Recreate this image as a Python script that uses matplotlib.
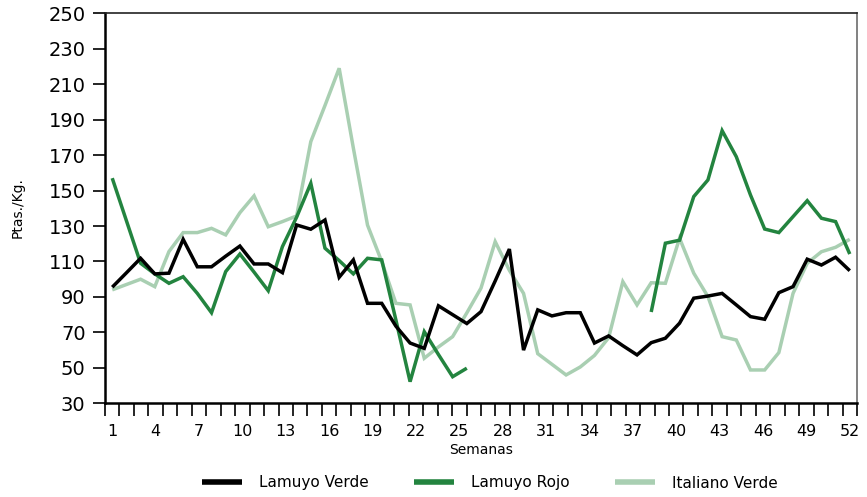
import numpy as np
import matplotlib
matplotlib.use("Agg")
import matplotlib.pyplot as plt

# ---- data ----
week_labels = list(range(1, 53, 3))          # 1, 4, 7, ..., 52
y_ticks = list(range(30, 251, 20))

lamuyo_verde = [95.5, 103.6, 111.8, 103, 103.4, 122.5, 107, 107, 113, 118.7,
                108.6, 108.6, 103.7, 130.6, 128.2, 133.4, 101.1, 110.9, 86.4, 86.4,
                73.5, 64, 61, 85, 80, 75, 81.7, 99, 117, 60,
                82.7, 79.3, 81.1, 81.1, 64, 68, 62.5, 57.3, 64.2, 66.7,
                75.2, 89.3, 90.5, 92, 85.5, 78.9, 77.4, 92.4, 95.8, 111.3,
                108, 112.4, 104.8]

nan = float("nan")
lamuyo_rojo = [157, 133, 109, 103, 97.7, 101.4, 92, 81.1, 104.3, 114.2,
               104, 93.5, 118.4, 135, 154.1, 117.5, 110.5, 103, 111.8, 110.9,
               77, 42.2, 70.4, 57.5, 45, 49.8,
               nan, nan, nan, nan, nan, nan, nan, nan, nan, nan, nan, nan,
               81.5, 120.3, 122, 146.6, 156, 183.8, 169.1, 147.5, 128.3, 126.3,
               135.3, 144.3, 134.4, 132.5, 114.2]

italiano_verde = [94, 97, 100, 95.8, 115.6, 126.3, 126.3, 128.7, 125, 137.5,
                  147, 129.6, 132.5, 135.7, 177.6, 198, 219, 174, 130.5, 110,
                  86.4, 85.5, 55.4, 61.8, 67.6, 81, 95, 121.2, 105, 92,
                  58, 52, 46, 50.5, 57, 67, 98.6, 85.5, 98, 97.7,
                  123.1, 103.4, 90.2, 67.6, 65.7, 48.8, 48.8, 58.6, 92, 109,
                  115.5, 118, 122.5]

series_names = ["Lamuyo Verde", "Lamuyo Rojo", "Italiano Verde"]
series_colors = ["#000000", "#23843F", "#A9CFB2"]

# 53 weekly observations spread evenly over the 52-week category axis
x_obs = np.linspace(1, 52, len(lamuyo_verde))

# ---- figure ----
W, H = 867, 497
fig = plt.figure(figsize=(W / 100, H / 100), dpi=100)
L, R, T, B = 105, 857, 13.3, 403.3
ax = fig.add_axes([L / W, 1 - B / H, (R - L) / W, (B - T) / H])

lines = []
for vals, name, col, z in zip([lamuyo_verde, lamuyo_rojo, italiano_verde],
                              series_names, series_colors, [4, 3, 2]):
    ln, = ax.plot(x_obs, vals, color=col, lw=2.5, label=name, zorder=z,
                  solid_joinstyle="miter", solid_capstyle="butt")
    lines.append(ln)

ax.set_xlim(0.5, 52.5)
ax.set_ylim(30, 250)

ax.set_yticks(y_ticks)
ax.tick_params(axis="y", direction="out", length=9, width=1.2, pad=5,
               labelsize=14, colors="black")

ax.set_xticks(week_labels)
ax.set_xticklabels([str(w) for w in week_labels])
ax.set_xticks(np.arange(0.5, 53, 1), minor=True)
ax.tick_params(axis="x", which="major", length=0, pad=15, labelsize=11.5)
ax.tick_params(axis="x", which="minor", direction="out", length=9, width=1.2)

for side in ["left", "bottom"]:
    ax.spines[side].set_linewidth(1.8)
    ax.spines[side].set_color("black")
ax.spines["top"].set_linewidth(1.2)
ax.spines["top"].set_color("#222222")
ax.spines["right"].set_linewidth(1.3)
ax.spines["right"].set_color("#777777")

fig.text(17.5 / W, 1 - 208 / H, "Ptas./Kg.", rotation=90, ha="center",
         va="center", fontsize=10)
fig.text(481 / W, 1 - 450 / H, "Semanas", ha="center", va="center",
         fontsize=10)

leg = fig.legend(lines, series_names, loc="center",
                 bbox_to_anchor=(490 / W, 1 - 483 / H), ncol=3, frameon=False,
                 fontsize=11, handlelength=2.6, handletextpad=1.1,
                 columnspacing=3.0)
for hl in leg.get_lines():
    hl.set_linewidth(4)

fig.savefig("out.png", dpi=100)
